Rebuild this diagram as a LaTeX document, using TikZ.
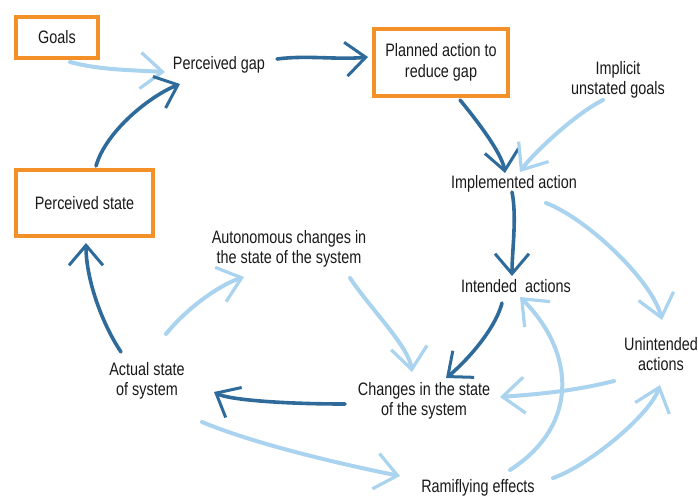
\documentclass[tikz,border=0pt]{standalone}
\usepackage{fontspec}
\setmainfont{Liberation Sans}[FakeStretch=0.8]
\usetikzlibrary{arrows.meta,calc}
\definecolor{darkb}{HTML}{2F6B9A}
\definecolor{lightb}{HTML}{A9D3EE}
\definecolor{orng}{HTML}{F39028}
\definecolor{txt}{HTML}{1A1A1A}
\begin{document}
\begin{tikzpicture}[x=1pt,y=-1pt,
  lbl/.style={font=\fontsize{18}{20.5}\selectfont, text=txt, align=center, inner sep=2pt},
  obox/.style={lbl, draw=orng, line width=4.5pt},
  dk/.style={draw=darkb, line width=3.6pt, line cap=round,
    -{Straight Barb[length=20pt,width=34pt,line width=3pt]}},
  lt/.style={draw=lightb, line width=4pt, line cap=round,
    -{Straight Barb[length=22pt,width=36pt,line width=3.2pt]}}]
\useasboundingbox (0,0) rectangle (698,496);
\fill[white] (0,0) rectangle (698,496);
% nodes
\node[obox, minimum width=82pt, minimum height=41pt] (goals) at (57,37.5) {Goals};
\node[obox, minimum width=137pt, minimum height=66pt] (pstate) at (84.5,203) {Perceived state};
\node[obox, minimum width=134pt, minimum height=67pt] (planned) at (441,62.5) {Planned action to\\reduce gap};
\node[lbl] (gap) at (219,65) {Perceived gap};
\node[lbl] (implicit) at (618,80) {Implicit\\unstated goals};
\node[lbl] (impl) at (514,184) {Implemented action};
\node[lbl] (auto) at (289,249) {Autonomous changes in\\the state of the system};
\node[lbl] (intended) at (516,286) {Intended\ \ actions};
\node[lbl] (unint) at (661,354) {Unintended\\actions};
\node[lbl] (actual) at (147,381) {Actual state\\of system};
\node[lbl] (changes) at (424,401) {Changes in the state\\of the system};
\node[lbl] (ramif) at (478,488) {Ramiflying effects};
% connectors
\draw[lt] ($(goals)+(13,24.5)$) .. controls +(30,8) and +(-35,-2) .. ($(gap)+(-54,7)$);
\draw[dk] ($(pstate)+(11.5,-37)$) .. controls +(10,-35) and +(-30,12) .. ($(gap)+(-39,19)$);
\draw[dk] ($(gap)+(58,-6)$) .. controls +(30,-4) and +(-30,3) .. ($(planned)+(-73,-5.5)$);
\draw[dk] ($(planned)+(19,37.5)$) .. controls +(15,18) and +(-3,-20) .. ($(impl)+(-9,-11)$);
\draw[lt] ($(implicit)+(-15,20)$) .. controls +(-30,15) and +(10,-15) .. ($(impl)+(6,-12)$);
\draw[dk] ($(impl)+(-2,8)$) .. controls +(5,25) and +(0,-25) .. ($(intended)+(-4,-10)$);
\draw[lt] ($(impl)+(32,19)$) .. controls +(40,15) and +(-10,-40) .. ($(unint)+(1,-34)$);
\draw[dk] ($(intended)+(-14,17)$) .. controls +(-8,30) and +(15,-12) .. ($(changes)+(22,-23)$);
\draw[lt] ($(auto)+(61,29)$) .. controls +(20,30) and +(-3,-25) .. ($(changes)+(-12,-29)$);
\draw[lt] ($(actual)+(19,-47)$) .. controls +(20,-25) and +(-25,8) .. ($(auto)+(-45,28)$);
\draw[dk] ($(actual)+(-26,-29)$) .. controls +(-20,-30) and +(0,35) .. ($(pstate)+(1.5,40)$);
\draw[dk] ($(changes)+(-79,3)$) .. controls +(-60,0) and +(15,8) .. ($(actual)+(67,11)$);
\draw[lt] ($(unint)+(-47,27)$) .. controls +(-40,10) and +(40,-3) .. ($(changes)+(76,-4)$);
\draw[lt] ($(actual)+(55,41)$) .. controls +(60,25) and +(-40,-8) .. ($(ramif)+(-78,-12)$);
\draw[lt] ($(ramif)+(32,-18)$) .. controls +(70,-45) and +(55,55) .. ($(intended)+(4,11)$);
\draw[lt] ($(ramif)+(75,-10)$) .. controls +(35,-12) and +(-10,30) .. ($(unint)+(-1,31)$);
\end{tikzpicture}
\end{document}
